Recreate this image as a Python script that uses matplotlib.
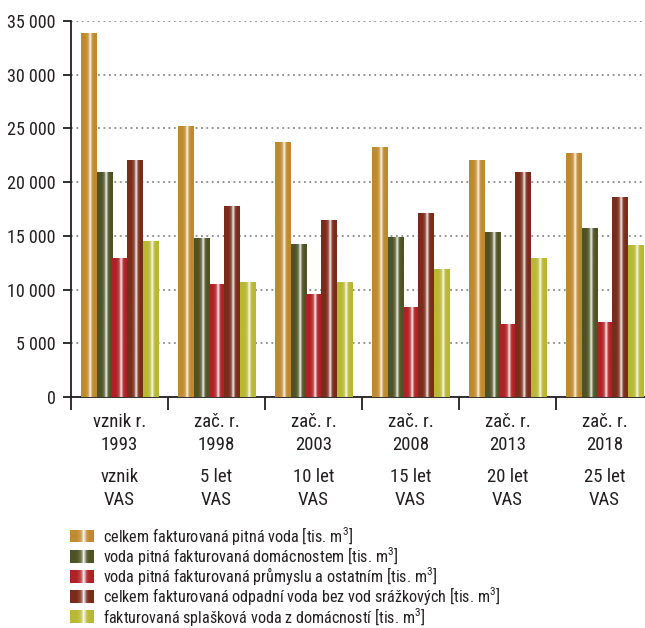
import numpy as np
import matplotlib
matplotlib.use("Agg")
import matplotlib.pyplot as plt
from matplotlib import font_manager as fm
from matplotlib.ticker import FuncFormatter, FixedLocator

# --- data -----------------------------------------------------------------
periods_top = ["vznik r.", "zač. r.", "zač. r.", "zač. r.", "zač. r.", "zač. r."]
years = ["1993", "1998", "2003", "2008", "2013", "2018"]
anniv = ["vznik", "5 let", "10 let", "15 let", "20 let", "25 let"]
anniv_sub = ["VAS", "VAS", "VAS", "VAS", "VAS", "VAS"]

series_names = [
    "celkem fakturovaná pitná voda [tis. m$\\mathregular{^3}$]",
    "voda pitná fakturovaná domácnostem [tis. m$\\mathregular{^3}$]",
    "voda pitná fakturovaná průmyslu a ostatním [tis. m$\\mathregular{^3}$]",
    "celkem fakturovaná odpadní voda bez vod srážkových [tis. m$\\mathregular{^3}$]",
    "fakturovaná splašková voda z domácností [tis. m$\\mathregular{^3}$]",
]
pitna_celkem = [33800, 25200, 23700, 23200, 22000, 22650]
pitna_domacnosti = [20900, 14800, 14200, 14850, 15300, 15700]
pitna_prumysl = [12900, 10500, 9550, 8300, 6750, 6900]
odpadni_celkem = [22050, 17750, 16450, 17100, 20900, 18550]
splaskova_domacnosti = [14500, 10700, 10700, 11900, 12900, 14100]
series_values = [pitna_celkem, pitna_domacnosti, pitna_prumysl,
                 odpadni_celkem, splaskova_domacnosti]

colors = ["#BF8A2E", "#4D5325", "#B02126", "#7A2B1A", "#B8B832"]

# --- fonts ----------------------------------------------------------------
def pick_family():
    for fam in ["Liberation Sans Narrow", "Roboto Condensed", "Open Sans Condensed"]:
        try:
            fm.findfont(fm.FontProperties(family=fam), fallback_to_default=False)
            return [fam, "DejaVu Sans"]
        except Exception:
            pass
    return ["DejaVu Sans"]

plt.rcParams["font.family"] = pick_family()
plt.rcParams["mathtext.fontset"] = "custom"
TEXT = "#231F20"


def shade(base, n=15):
    """Horizontal cylinder-like gradient with a bright highlight stripe."""
    rgb = np.array(matplotlib.colors.to_rgb(base))
    t = (np.arange(n) + 0.5) / n
    glow = np.clip(1 - np.abs(t - 0.55) / 0.30, 0, 1) ** 1.5 * 0.35
    spike = np.exp(-((t - 0.58) / 0.06) ** 2) * 0.8
    w = np.clip(glow + spike, 0, 0.92)[:, None]
    img = rgb[None, :] * (1 - w) + w
    return img[None, :, :]


fig = plt.figure(figsize=(6.45, 6.28), dpi=100)
ax = fig.add_axes([71 / 645, 231 / 628, 582 / 645, 376 / 628])

x = np.arange(len(years))
step = 0.159
width = 0.155
for j, (vals, col) in enumerate(zip(series_values, colors)):
    bars = ax.bar(x + (j - 2) * step, vals, width=width, color=col, zorder=2)
    grad = shade(col)
    for b in bars:
        ax.imshow(grad, extent=[b.get_x(), b.get_x() + b.get_width(), 0, b.get_height()],
                  aspect="auto", zorder=3, interpolation="bilinear")

ax.set_xlim(-0.5, len(years) - 0.5)
ax.set_ylim(0, 35000)

# y axis
ax.set_yticks(np.arange(0, 35001, 5000))
ax.yaxis.set_major_formatter(FuncFormatter(lambda v, p: f"{int(v):,}".replace(",", " ")))
ax.tick_params(axis="y", direction="out", length=6, width=1.3, color="#231F20",
               labelsize=13, labelcolor=TEXT, pad=5)
ax.yaxis.grid(True, linestyle=(0, (1, 2)), color="#8a8a8a", linewidth=1.3, zorder=0)
ax.set_axisbelow(True)

# x axis: boundary ticks, labels under category centres
ax.xaxis.set_major_locator(FixedLocator(np.arange(-0.5, len(years), 1.0)))
ax.set_xticklabels([])
ax.tick_params(axis="x", direction="out", length=9.5, width=1.3, color="#231F20")

for i in range(len(years)):
    for txt, off in [(periods_top[i], 21.6), (years[i], 38.2),
                     (anniv[i], 61.2), (anniv_sub[i], 77.8)]:
        ax.annotate(txt, xy=(i, 0), xycoords=("data", "axes fraction"),
                    xytext=(0, -off), textcoords="offset points",
                    ha="center", va="baseline", fontsize=13.5, color=TEXT)

for s in ["top", "right"]:
    ax.spines[s].set_visible(False)
for s in ["left", "bottom"]:
    ax.spines[s].set_linewidth(1.3)
    ax.spines[s].set_color("#231F20")

# legend drawn by hand so the swatches keep the gradient look
row_y = [536, 556, 576, 596, 616.5]
for name, col, yc in zip(series_names, colors, row_y):
    sw = fig.add_axes([70 / 645, 1 - (yc + 6.5) / 628, 23 / 645, 13 / 628])
    sw.imshow(shade(col), aspect="auto", extent=[0, 1, 0, 1], interpolation="bilinear")
    sw.set_axis_off()
    fig.text(103 / 645, 1 - yc / 628, name, ha="left", va="center",
             fontsize=11.6, color=TEXT)

fig.savefig("out.png", dpi=100)
